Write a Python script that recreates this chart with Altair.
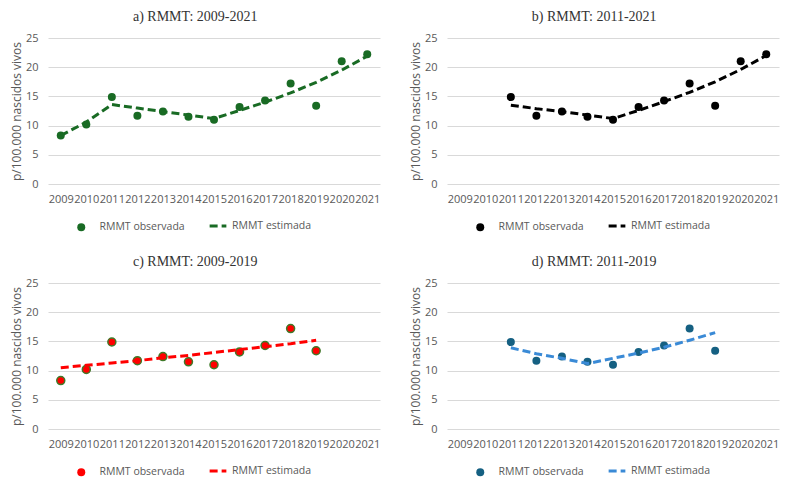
import altair as alt
import pandas as pd

# Years shown on every x axis
years = [str(y) for y in range(2009, 2022)]

# Observed maternal mortality ratio (per 100,000 live births)
observed = [8.3, 10.2, 14.9, 11.7, 12.4, 11.5, 11.0, 13.2, 14.3, 17.2, 13.4, 21.0, 22.2]

# Fitted (estimated) series for each period
est_a_years = years
est_a = [8.3, 10.6, 13.6, 13.0, 12.4, 11.8, 11.2, 12.6, 14.0, 15.6, 17.4, 19.5, 21.9]

est_b_years = years[2:]
est_b = [13.5, 12.9, 12.4, 11.8, 11.2, 12.6, 14.1, 15.7, 17.5, 19.6, 22.0]

est_c_years = years[:11]
est_c = [10.5, 10.9, 11.3, 11.7, 12.2, 12.6, 13.1, 13.6, 14.1, 14.6, 15.2]

est_d_years = years[2:11]
est_d = [13.9, 12.9, 12.1, 11.2, 12.1, 13.0, 14.0, 15.2, 16.5]

OBS_LABEL = "RMMT observada"
EST_LABEL = "RMMT estimada"
AXIS_FONT = "Open Sans"
GREY = "#595959"


def panel(title, obs_years, obs_vals, est_years, est_vals,
          fill, stroke, stroke_w, line_color):
    obs_df = pd.DataFrame({"ano": obs_years, "valor": obs_vals, "serie": OBS_LABEL})
    est_df = pd.DataFrame({"ano": est_years, "valor": est_vals, "serie": EST_LABEL})

    x = alt.X("ano:O", scale=alt.Scale(domain=years),
              axis=alt.Axis(title=None, labelAngle=0, labelOverlap=False,
                            domain=False, ticks=False, grid=False,
                            labelPadding=9, labelFont=AXIS_FONT,
                            labelFontSize=11, labelColor=GREY))
    y = alt.Y("valor:Q", scale=alt.Scale(domain=[0, 25]),
              axis=alt.Axis(title="p/100.000 nascidos vivos", values=[0, 5, 10, 15, 20, 25],
                            domain=False, ticks=False, labelPadding=10,
                            gridColor="#d9d9d9", gridWidth=1,
                            labelFont=AXIS_FONT, labelFontSize=11, labelColor=GREY,
                            titleFont=AXIS_FONT, titleFontSize=12, titleColor=GREY,
                            titleFontWeight="normal", titlePadding=2))

    points = alt.Chart(obs_df).mark_point(
        filled=True, size=64, fill=fill, stroke=stroke,
        strokeWidth=stroke_w, opacity=1
    ).encode(
        x=x, y=y,
        shape=alt.Shape(
            "serie:N",
            scale=alt.Scale(domain=[OBS_LABEL], range=["circle"]),
            legend=alt.Legend(title=None, orient="none", legendX=28, legendY=184,
                              symbolSize=64, symbolFillColor=fill,
                              symbolStrokeColor=stroke, symbolStrokeWidth=stroke_w,
                              labelFont=AXIS_FONT, labelFontSize=10.5,
                              labelColor=GREY, labelOffset=13)),
    )

    line = alt.Chart(est_df).mark_line(
        color=line_color, strokeWidth=3
    ).encode(
        x=x, y=y,
        strokeDash=alt.StrokeDash(
            "serie:N",
            scale=alt.Scale(domain=[EST_LABEL], range=[[8, 4]]),
            legend=alt.Legend(title=None, orient="none", legendX=160, legendY=178,
                              symbolType="stroke", symbolSize=280,
                              symbolStrokeWidth=3, symbolStrokeColor=line_color,
                              labelFont=AXIS_FONT, labelFontSize=10.5,
                              labelColor=GREY, labelOffset=4)),
    )

    return alt.layer(points, line).properties(
        width=332, height=146,
        title=alt.Title(title, font="Liberation Serif", fontSize=14,
                        fontWeight="normal", color="#333333",
                        anchor="middle", frame="bounds", offset=8),
    )


a = panel("a) RMMT: 2009-2021", years, observed, est_a_years, est_a,
          "#196B24", "#196B24", 0, "#196B24")
b = panel("b) RMMT: 2011-2021", years[2:], observed[2:], est_b_years, est_b,
          "#000000", "#000000", 0, "#000000")
c = panel("c) RMMT: 2009-2019", years[:11], observed[:11], est_c_years, est_c,
          "#ff0000", "#3f7a2a", 1.5, "#ff0000")
d = panel("d) RMMT: 2011-2019", years[2:11], observed[2:11], est_d_years, est_d,
          "#156082", "#156082", 0, "#3a8ad6")

row1 = alt.hconcat(a, b, spacing=29).resolve_scale(shape="independent", strokeDash="independent")
row2 = alt.hconcat(c, d, spacing=29).resolve_scale(shape="independent", strokeDash="independent")

chart = alt.vconcat(row1, row2, spacing=22).resolve_scale(
    shape="independent", strokeDash="independent"
).properties(
    padding={"left": 10, "top": 10, "right": 5, "bottom": 5},
    background="white",
).configure_view(stroke=None)

chart.save("out.html", embed_options={"renderer": "svg", "actions": False})
